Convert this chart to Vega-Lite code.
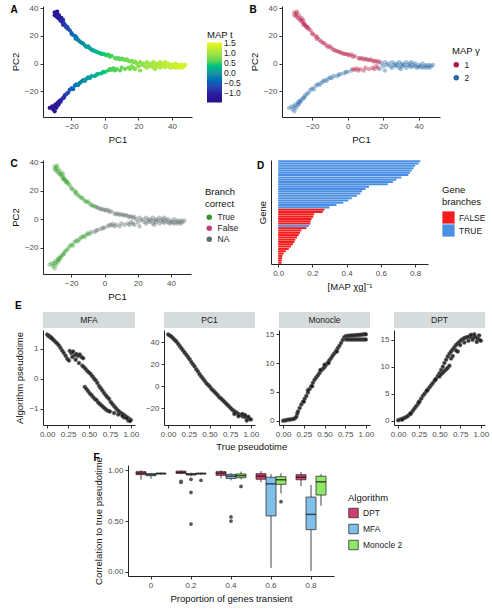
{
"$schema":"https://vega.github.io/schema/vega-lite/v6.json",
"background":"white",
"padding":{"left":10,"top":4,"right":2,"bottom":2},
"config":{
 "font":"Liberation Sans",
 "view":{"stroke":null},
 "axis":{"grid":false,"domainColor":"#222","tickColor":"#333","labelColor":"#4d4d4d","labelFontSize":8,"titleFontSize":9.5,"titleFontWeight":"normal","titleColor":"#111","tickSize":3,"labelPadding":2,"titlePadding":4,"domainWidth":1},
 "legend":{"titleFontSize":9.5,"titleFontWeight":"normal","titleColor":"#111","labelFontSize":8.5,"labelColor":"#222"},
 "title":{"fontSize":10,"fontWeight":"bold","anchor":"start","frame":"bounds","color":"#000"}
},
"resolve":{"scale":{"color":"independent","fill":"independent"},"legend":{"color":"independent","fill":"independent"}},
"datasets":{
"pc":[
{"x":-30,"y":37,"t":-1.3,"g":"1","c":"True"},{"x":-29,"y":36,"t":-1.26,"g":"1","c":"True"},{"x":-28.5,"y":37.5,"t":-1.28,"g":"1","c":"True"},{"x":-30,"y":35,"t":-1.24,"g":"1","c":"True"},{"x":-29,"y":34,"t":-1.2,"g":"1","c":"True"},{"x":-27.5,"y":35,"t":-1.15,"g":"1","c":"True"},{"x":-28,"y":33,"t":-1.12,"g":"1","c":"True"},{"x":-27,"y":32,"t":-1.06,"g":"1","c":"True"},{"x":-26,"y":33,"t":-1.02,"g":"1","c":"True"},{"x":-26.5,"y":31,"t":-1.0,"g":"1","c":"True"},{"x":-25.5,"y":30,"t":-0.93,"g":"1","c":"True"},{"x":-25,"y":31.5,"t":-0.92,"g":"1","c":"True"},{"x":-24.5,"y":29,"t":-0.86,"g":"1","c":"True"},{"x":-24,"y":28,"t":-0.8,"g":"1","c":"True"},{"x":-25,"y":28,"t":-0.85,"g":"1","c":"True"},{"x":-23.5,"y":27,"t":-0.75,"g":"1","c":"True"},{"x":-23,"y":26,"t":-0.68,"g":"1","c":"True"},{"x":-22,"y":25,"t":-0.6,"g":"1","c":"True"},{"x":-22.5,"y":26.5,"t":-0.64,"g":"1","c":"True"},{"x":-21,"y":24,"t":-0.52,"g":"1","c":"True"},{"x":-20,"y":22,"t":-0.43,"g":"1","c":"True"},{"x":-19.5,"y":21,"t":-0.38,"g":"1","c":"True"},{"x":-18,"y":20,"t":-0.31,"g":"1","c":"True"},{"x":-17,"y":19,"t":-0.26,"g":"1","c":"True"},{"x":-17.5,"y":18,"t":-0.24,"g":"1","c":"True"},{"x":-16,"y":17,"t":-0.18,"g":"1","c":"True"},{"x":-15,"y":16,"t":-0.13,"g":"1","c":"True"},{"x":-14,"y":15,"t":-0.08,"g":"1","c":"True"},{"x":-13,"y":14.5,"t":-0.04,"g":"1","c":"True"},{"x":-12,"y":13,"t":0.0,"g":"1","c":"True"},{"x":-11,"y":12,"t":0.04,"g":"1","c":"True"},{"x":-10,"y":12.5,"t":0.07,"g":"1","c":"True"},{"x":-9,"y":11,"t":0.11,"g":"1","c":"True"},{"x":-8,"y":10,"t":0.15,"g":"1","c":"True"},{"x":-7,"y":9.5,"t":0.19,"g":"1","c":"True"},{"x":-6,"y":9,"t":0.22,"g":"1","c":"True"},
{"x":-5,"y":8.5,"t":0.26,"g":"1","c":"NA"},{"x":-4,"y":8,"t":0.3,"g":"1","c":"NA"},{"x":-3,"y":7.5,"t":0.33,"g":"1","c":"NA"},{"x":-2,"y":7,"t":0.36,"g":"1","c":"NA"},{"x":-1,"y":7,"t":0.4,"g":"1","c":"NA"},{"x":0,"y":6.5,"t":0.43,"g":"1","c":"NA"},{"x":1,"y":6,"t":0.46,"g":"1","c":"NA"},{"x":2,"y":6.5,"t":0.48,"g":"1","c":"NA"},{"x":3,"y":5,"t":0.5,"g":"1","c":"NA"},{"x":4,"y":5.5,"t":0.53,"g":"1","c":"NA"},{"x":6,"y":4,"t":0.57,"g":"1","c":"NA"},{"x":7,"y":3.5,"t":0.59,"g":"1","c":"NA"},{"x":8,"y":4,"t":0.61,"g":"1","c":"NA"},{"x":9,"y":3,"t":0.64,"g":"1","c":"NA"},{"x":10,"y":3.5,"t":0.66,"g":"1","c":"NA"},{"x":11,"y":3,"t":0.68,"g":"1","c":"NA"},{"x":12,"y":2.5,"t":0.7,"g":"1","c":"NA"},{"x":13,"y":3,"t":0.72,"g":"1","c":"NA"},{"x":14,"y":2,"t":0.74,"g":"1","c":"NA"},{"x":15,"y":1.5,"t":0.76,"g":"1","c":"NA"},{"x":16,"y":2,"t":0.78,"g":"1","c":"NA"},{"x":17,"y":1,"t":0.8,"g":"1","c":"NA"},{"x":18,"y":1.5,"t":0.82,"g":"1","c":"NA"},{"x":19,"y":0,"t":0.84,"g":"2","c":"NA"},
{"x":-33,"y":-32,"t":-1.38,"g":"2","c":"True"},{"x":-31,"y":-33,"t":-1.33,"g":"2","c":"True"},{"x":-30,"y":-34.5,"t":-1.32,"g":"2","c":"True"},{"x":-31.5,"y":-31,"t":-1.3,"g":"2","c":"True"},{"x":-30,"y":-31,"t":-1.27,"g":"2","c":"True"},{"x":-29,"y":-32,"t":-1.26,"g":"2","c":"True"},{"x":-29.5,"y":-29.5,"t":-1.22,"g":"2","c":"True"},{"x":-28,"y":-30,"t":-1.18,"g":"2","c":"True"},{"x":-28,"y":-28,"t":-1.13,"g":"2","c":"True"},{"x":-27,"y":-27,"t":-1.06,"g":"2","c":"True"},{"x":-27.5,"y":-29,"t":-1.1,"g":"2","c":"True"},{"x":-26,"y":-26,"t":-0.99,"g":"2","c":"True"},{"x":-26.5,"y":-27.5,"t":-1.02,"g":"2","c":"True"},{"x":-25,"y":-25,"t":-0.92,"g":"2","c":"True"},{"x":-24,"y":-23,"t":-0.83,"g":"2","c":"True"},{"x":-24.5,"y":-24.5,"t":-0.87,"g":"2","c":"True"},{"x":-23,"y":-22,"t":-0.76,"g":"2","c":"True"},{"x":-22,"y":-21,"t":-0.67,"g":"2","c":"True"},{"x":-21,"y":-19,"t":-0.57,"g":"2","c":"True"},{"x":-20,"y":-18,"t":-0.47,"g":"2","c":"True"},{"x":-19,"y":-18.5,"t":-0.41,"g":"2","c":"True"},{"x":-18,"y":-16,"t":-0.33,"g":"2","c":"True"},{"x":-17,"y":-15,"t":-0.27,"g":"2","c":"True"},{"x":-16,"y":-15.5,"t":-0.21,"g":"2","c":"True"},{"x":-15,"y":-14,"t":-0.15,"g":"2","c":"True"},{"x":-14,"y":-13,"t":-0.1,"g":"2","c":"True"},{"x":-13,"y":-12,"t":-0.06,"g":"2","c":"True"},{"x":-12,"y":-12.5,"t":-0.02,"g":"2","c":"True"},{"x":-11,"y":-11,"t":0.03,"g":"2","c":"True"},{"x":-10,"y":-10,"t":0.07,"g":"2","c":"True"},{"x":-9,"y":-10.5,"t":0.1,"g":"2","c":"True"},
{"x":-8,"y":-9,"t":0.14,"g":"2","c":"NA"},{"x":-6,"y":-9,"t":0.21,"g":"2","c":"NA"},{"x":-5,"y":-8,"t":0.25,"g":"2","c":"NA"},{"x":-4,"y":-7.5,"t":0.29,"g":"2","c":"NA"},{"x":-2,"y":-7,"t":0.35,"g":"2","c":"NA"},{"x":-1,"y":-6,"t":0.39,"g":"2","c":"NA"},{"x":0,"y":-6,"t":0.42,"g":"2","c":"NA"},{"x":2,"y":-5,"t":0.47,"g":"2","c":"NA"},{"x":3,"y":-4,"t":0.5,"g":"1","c":"NA"},{"x":4,"y":-4.5,"t":0.52,"g":"1","c":"NA"},{"x":5,"y":-3.5,"t":0.55,"g":"1","c":"NA"},{"x":6,"y":-5,"t":0.57,"g":"1","c":"NA"},{"x":7,"y":-4,"t":0.59,"g":"1","c":"NA"},{"x":9,"y":-5,"t":0.63,"g":"1","c":"NA"},{"x":10,"y":-3,"t":0.66,"g":"1","c":"NA"},{"x":12,"y":-4,"t":0.7,"g":"1","c":"NA"},{"x":14,"y":-3,"t":0.74,"g":"1","c":"NA"},{"x":15,"y":-4,"t":0.76,"g":"1","c":"NA"},{"x":16,"y":-2,"t":0.78,"g":"1","c":"NA"},{"x":17,"y":-3,"t":0.8,"g":"1","c":"NA"},{"x":18,"y":-4,"t":0.82,"g":"2","c":"NA"},{"x":20,"y":-2,"t":0.86,"g":"2","c":"NA"},{"x":21,"y":-5,"t":0.88,"g":"2","c":"NA"},
{"x":21,"y":1,"t":0.88,"g":"2","c":"NA"},{"x":22,"y":-1,"t":0.9,"g":"2","c":"NA"},{"x":23,"y":0,"t":0.92,"g":"2","c":"NA"},{"x":24,"y":-2,"t":0.94,"g":"2","c":"NA"},{"x":25,"y":1,"t":0.96,"g":"2","c":"NA"},{"x":25,"y":-3,"t":0.96,"g":"2","c":"NA"},{"x":26,"y":-1,"t":0.98,"g":"2","c":"NA"},{"x":27,"y":0,"t":1.0,"g":"2","c":"NA"},{"x":27,"y":-2,"t":1.0,"g":"2","c":"NA"},{"x":28,"y":-1,"t":1.02,"g":"2","c":"NA"},{"x":29,"y":1,"t":1.04,"g":"2","c":"NA"},{"x":29,"y":-3,"t":1.04,"g":"2","c":"NA"},{"x":30,"y":-1,"t":1.06,"g":"2","c":"NA"},{"x":30,"y":-4,"t":1.06,"g":"2","c":"NA"},{"x":31,"y":-2,"t":1.08,"g":"2","c":"NA"},{"x":31,"y":0,"t":1.08,"g":"2","c":"NA"},{"x":32,"y":-1,"t":1.1,"g":"2","c":"NA"},{"x":33,"y":-3,"t":1.12,"g":"2","c":"NA"},{"x":33,"y":1,"t":1.12,"g":"2","c":"NA"},{"x":34,"y":-1,"t":1.14,"g":"2","c":"NA"},{"x":35,"y":-2,"t":1.16,"g":"2","c":"NA"},{"x":35,"y":0,"t":1.16,"g":"2","c":"NA"},{"x":36,"y":-2.5,"t":1.18,"g":"2","c":"NA"},{"x":36,"y":1,"t":1.18,"g":"2","c":"NA"},{"x":37,"y":-1,"t":1.2,"g":"2","c":"NA"},{"x":38,"y":-2,"t":1.22,"g":"2","c":"NA"},{"x":38,"y":0,"t":1.22,"g":"2","c":"NA"},{"x":39,"y":-3,"t":1.24,"g":"2","c":"NA"},{"x":40,"y":-1,"t":1.26,"g":"2","c":"NA"},{"x":40,"y":-2.5,"t":1.26,"g":"2","c":"NA"},{"x":41,"y":-2,"t":1.28,"g":"2","c":"NA"},{"x":42,"y":-3,"t":1.3,"g":"2","c":"NA"},{"x":42,"y":0,"t":1.3,"g":"2","c":"NA"},{"x":43,"y":-2,"t":1.32,"g":"2","c":"NA"},{"x":44,"y":-3,"t":1.34,"g":"2","c":"NA"},{"x":44,"y":-1,"t":1.34,"g":"2","c":"NA"},{"x":45,"y":-2,"t":1.36,"g":"2","c":"NA"},{"x":46,"y":-3,"t":1.38,"g":"2","c":"NA"},{"x":46,"y":-1,"t":1.38,"g":"2","c":"NA"},{"x":47,"y":-2,"t":1.4,"g":"2","c":"NA"},{"x":48,"y":-1,"t":1.43,"g":"2","c":"NA"}
],
"genes":[
{"gene":"g01","v":0.83,"b":"TRUE"},{"gene":"g02","v":0.82,"b":"TRUE"},{"gene":"g03","v":0.80,"b":"TRUE"},{"gene":"g04","v":0.79,"b":"TRUE"},{"gene":"g05","v":0.78,"b":"TRUE"},{"gene":"g06","v":0.77,"b":"TRUE"},{"gene":"g07","v":0.76,"b":"TRUE"},{"gene":"g08","v":0.72,"b":"TRUE"},{"gene":"g09","v":0.69,"b":"TRUE"},{"gene":"g10","v":0.67,"b":"TRUE"},{"gene":"g11","v":0.64,"b":"TRUE"},{"gene":"g12","v":0.53,"b":"TRUE"},{"gene":"g13","v":0.51,"b":"TRUE"},{"gene":"g14","v":0.49,"b":"TRUE"},{"gene":"g15","v":0.48,"b":"TRUE"},{"gene":"g16","v":0.46,"b":"TRUE"},{"gene":"g17","v":0.43,"b":"TRUE"},{"gene":"g18","v":0.41,"b":"TRUE"},{"gene":"g19","v":0.38,"b":"TRUE"},{"gene":"g20","v":0.34,"b":"TRUE"},{"gene":"g21","v":0.30,"b":"TRUE"},{"gene":"g22","v":0.18,"b":"TRUE"},
{"gene":"g23","v":0.27,"b":"FALSE"},{"gene":"g24","v":0.26,"b":"FALSE"},{"gene":"g25","v":0.21,"b":"FALSE"},{"gene":"g26","v":0.205,"b":"FALSE"},{"gene":"g27","v":0.195,"b":"FALSE"},{"gene":"g28","v":0.19,"b":"FALSE"},{"gene":"g29","v":0.188,"b":"FALSE"},{"gene":"g30","v":0.165,"b":"FALSE"},{"gene":"g31","v":0.135,"b":"FALSE"},{"gene":"g32","v":0.128,"b":"FALSE"},{"gene":"g33","v":0.12,"b":"FALSE"},{"gene":"g34","v":0.11,"b":"FALSE"},{"gene":"g35","v":0.10,"b":"FALSE"},{"gene":"g36","v":0.095,"b":"FALSE"},{"gene":"g37","v":0.087,"b":"FALSE"},{"gene":"g38","v":0.075,"b":"FALSE"},{"gene":"g39","v":0.062,"b":"FALSE"},{"gene":"g40","v":0.045,"b":"FALSE"},{"gene":"g41","v":0.032,"b":"FALSE"},{"gene":"g42","v":0.025,"b":"FALSE"},{"gene":"g43","v":0.022,"b":"FALSE"},{"gene":"g44","v":0.021,"b":"FALSE"},{"gene":"g45","v":0.019,"b":"FALSE"}
],
"ep":[
{"m":"MFA","T":0,"v":1.47},{"m":"MFA","T":0.01,"v":1.44},{"m":"MFA","T":0.02,"v":1.42},{"m":"MFA","T":0.03,"v":1.4},{"m":"MFA","T":0.04,"v":1.38},{"m":"MFA","T":0.05,"v":1.36},{"m":"MFA","T":0.06,"v":1.33},{"m":"MFA","T":0.08,"v":1.28},{"m":"MFA","T":0.1,"v":1.22},{"m":"MFA","T":0.12,"v":1.17},{"m":"MFA","T":0.14,"v":1.1},{"m":"MFA","T":0.16,"v":1.02},{"m":"MFA","T":0.18,"v":0.93},{"m":"MFA","T":0.2,"v":0.85},{"m":"MFA","T":0.22,"v":0.76},{"m":"MFA","T":0.24,"v":0.66},{"m":"MFA","T":0.26,"v":0.6},{"m":"MFA","T":0.27,"v":0.92},{"m":"MFA","T":0.29,"v":0.85},{"m":"MFA","T":0.31,"v":0.9},{"m":"MFA","T":0.33,"v":0.78},{"m":"MFA","T":0.35,"v":0.82},{"m":"MFA","T":0.37,"v":0.75},{"m":"MFA","T":0.39,"v":0.8},{"m":"MFA","T":0.41,"v":0.72},{"m":"MFA","T":0.43,"v":0.68},{"m":"MFA","T":0.3,"v":0.72},{"m":"MFA","T":0.34,"v":0.63},{"m":"MFA","T":0.38,"v":0.52},{"m":"MFA","T":0.42,"v":0.43},{"m":"MFA","T":0.44,"v":0.38},{"m":"MFA","T":0.46,"v":0.32},{"m":"MFA","T":0.48,"v":0.25},{"m":"MFA","T":0.5,"v":0.2},{"m":"MFA","T":0.52,"v":0.15},{"m":"MFA","T":0.54,"v":0.08},{"m":"MFA","T":0.56,"v":0.0},{"m":"MFA","T":0.58,"v":-0.06},{"m":"MFA","T":0.6,"v":-0.15},{"m":"MFA","T":0.62,"v":-0.25},{"m":"MFA","T":0.64,"v":-0.32},{"m":"MFA","T":0.66,"v":-0.4},{"m":"MFA","T":0.68,"v":-0.48},{"m":"MFA","T":0.7,"v":-0.56},{"m":"MFA","T":0.72,"v":-0.62},{"m":"MFA","T":0.74,"v":-0.68},{"m":"MFA","T":0.76,"v":-0.78},{"m":"MFA","T":0.78,"v":-0.85},{"m":"MFA","T":0.8,"v":-0.92},{"m":"MFA","T":0.82,"v":-0.98},{"m":"MFA","T":0.84,"v":-1.05},{"m":"MFA","T":0.86,"v":-1.1},{"m":"MFA","T":0.88,"v":-1.15},{"m":"MFA","T":0.9,"v":-1.18},{"m":"MFA","T":0.92,"v":-1.22},{"m":"MFA","T":0.94,"v":-1.27},{"m":"MFA","T":0.96,"v":-1.3},{"m":"MFA","T":0.98,"v":-1.35},{"m":"MFA","T":1.0,"v":-1.38},{"m":"MFA","T":0.97,"v":-1.4},{"m":"MFA","T":0.99,"v":-1.42},{"m":"MFA","T":0.92,"v":-1.3},
{"m":"MFA","T":0.45,"v":-0.28},{"m":"MFA","T":0.47,"v":-0.35},{"m":"MFA","T":0.49,"v":-0.42},{"m":"MFA","T":0.51,"v":-0.5},{"m":"MFA","T":0.53,"v":-0.55},{"m":"MFA","T":0.55,"v":-0.62},{"m":"MFA","T":0.57,"v":-0.68},{"m":"MFA","T":0.59,"v":-0.72},{"m":"MFA","T":0.61,"v":-0.8},{"m":"MFA","T":0.63,"v":-0.85},{"m":"MFA","T":0.65,"v":-0.9},{"m":"MFA","T":0.67,"v":-0.95},{"m":"MFA","T":0.69,"v":-1.0},{"m":"MFA","T":0.71,"v":-1.05},{"m":"MFA","T":0.73,"v":-1.08},{"m":"MFA","T":0.75,"v":-1.1},{"m":"MFA","T":0.8,"v":-1.15},{"m":"MFA","T":0.85,"v":-1.2},{"m":"MFA","T":0.9,"v":-1.25},{"m":"MFA","T":0.95,"v":-1.32},
{"m":"PC1","T":0,"v":47},{"m":"PC1","T":0.02,"v":46},{"m":"PC1","T":0.04,"v":45},{"m":"PC1","T":0.06,"v":43.5},{"m":"PC1","T":0.08,"v":42},{"m":"PC1","T":0.1,"v":40.5},{"m":"PC1","T":0.12,"v":38.5},{"m":"PC1","T":0.14,"v":36.5},{"m":"PC1","T":0.16,"v":34.5},{"m":"PC1","T":0.18,"v":32.5},{"m":"PC1","T":0.2,"v":30.5},{"m":"PC1","T":0.22,"v":28.5},{"m":"PC1","T":0.24,"v":26.5},{"m":"PC1","T":0.26,"v":24.5},{"m":"PC1","T":0.28,"v":22},{"m":"PC1","T":0.3,"v":20},{"m":"PC1","T":0.32,"v":18},{"m":"PC1","T":0.34,"v":15.5},{"m":"PC1","T":0.36,"v":13.5},{"m":"PC1","T":0.38,"v":11},{"m":"PC1","T":0.4,"v":9},{"m":"PC1","T":0.42,"v":7},{"m":"PC1","T":0.44,"v":5},{"m":"PC1","T":0.46,"v":3},{"m":"PC1","T":0.48,"v":1.5},{"m":"PC1","T":0.5,"v":0},{"m":"PC1","T":0.52,"v":-2},{"m":"PC1","T":0.54,"v":-3.5},{"m":"PC1","T":0.56,"v":-5},{"m":"PC1","T":0.58,"v":-6.5},{"m":"PC1","T":0.6,"v":-8},{"m":"PC1","T":0.62,"v":-10},{"m":"PC1","T":0.64,"v":-11},{"m":"PC1","T":0.66,"v":-12.5},{"m":"PC1","T":0.68,"v":-14},{"m":"PC1","T":0.7,"v":-15.5},{"m":"PC1","T":0.72,"v":-17},{"m":"PC1","T":0.74,"v":-18.5},{"m":"PC1","T":0.76,"v":-20},{"m":"PC1","T":0.78,"v":-21.5},{"m":"PC1","T":0.8,"v":-22.5},{"m":"PC1","T":0.82,"v":-23.5},{"m":"PC1","T":0.84,"v":-24.5},{"m":"PC1","T":0.86,"v":-25.5},{"m":"PC1","T":0.88,"v":-26},{"m":"PC1","T":0.9,"v":-27},{"m":"PC1","T":0.92,"v":-27.5},{"m":"PC1","T":0.94,"v":-28},{"m":"PC1","T":0.96,"v":-29},{"m":"PC1","T":0.98,"v":-29.5},{"m":"PC1","T":1.0,"v":-30},{"m":"PC1","T":0.85,"v":-27},{"m":"PC1","T":0.9,"v":-25},{"m":"PC1","T":0.95,"v":-31},{"m":"PC1","T":0.8,"v":-25},{"m":"PC1","T":0.93,"v":-26},{"m":"PC1","T":0.97,"v":-27.5},
{"m":"Monocle","T":0,"v":0},{"m":"Monocle","T":0.02,"v":0.05},{"m":"Monocle","T":0.04,"v":0.1},{"m":"Monocle","T":0.06,"v":0.15},{"m":"Monocle","T":0.08,"v":0.2},{"m":"Monocle","T":0.1,"v":0.25},{"m":"Monocle","T":0.12,"v":0.3},{"m":"Monocle","T":0.14,"v":0.4},{"m":"Monocle","T":0.16,"v":0.7},{"m":"Monocle","T":0.17,"v":1.2},{"m":"Monocle","T":0.18,"v":1.6},{"m":"Monocle","T":0.2,"v":2.2},{"m":"Monocle","T":0.22,"v":2.8},{"m":"Monocle","T":0.24,"v":3.3},{"m":"Monocle","T":0.26,"v":3.8},{"m":"Monocle","T":0.28,"v":4.3},{"m":"Monocle","T":0.3,"v":4.9},{"m":"Monocle","T":0.32,"v":5.5},{"m":"Monocle","T":0.34,"v":6.0},{"m":"Monocle","T":0.36,"v":6.6},{"m":"Monocle","T":0.38,"v":7.1},{"m":"Monocle","T":0.4,"v":7.5},{"m":"Monocle","T":0.42,"v":7.9},{"m":"Monocle","T":0.44,"v":8.3},{"m":"Monocle","T":0.46,"v":8.7},{"m":"Monocle","T":0.48,"v":9.0},{"m":"Monocle","T":0.5,"v":9.3},{"m":"Monocle","T":0.52,"v":9.7},{"m":"Monocle","T":0.54,"v":10.1},{"m":"Monocle","T":0.56,"v":10.5},{"m":"Monocle","T":0.58,"v":10.9},{"m":"Monocle","T":0.6,"v":11.3},{"m":"Monocle","T":0.62,"v":11.7},{"m":"Monocle","T":0.64,"v":12.1},{"m":"Monocle","T":0.66,"v":12.6},{"m":"Monocle","T":0.68,"v":13.0},{"m":"Monocle","T":0.7,"v":13.5},{"m":"Monocle","T":0.72,"v":14.0},{"m":"Monocle","T":0.74,"v":14.5},{"m":"Monocle","T":0.76,"v":14.7},{"m":"Monocle","T":0.78,"v":14.72},{"m":"Monocle","T":0.8,"v":14.75},{"m":"Monocle","T":0.82,"v":14.78},{"m":"Monocle","T":0.84,"v":14.8},{"m":"Monocle","T":0.86,"v":14.82},{"m":"Monocle","T":0.88,"v":14.85},{"m":"Monocle","T":0.9,"v":14.88},{"m":"Monocle","T":0.92,"v":14.9},{"m":"Monocle","T":0.94,"v":14.92},{"m":"Monocle","T":0.96,"v":14.95},{"m":"Monocle","T":0.98,"v":15.0},{"m":"Monocle","T":1.0,"v":15.0},{"m":"Monocle","T":0.76,"v":14.1},{"m":"Monocle","T":0.78,"v":14.12},{"m":"Monocle","T":0.8,"v":14.1},{"m":"Monocle","T":0.82,"v":14.08},{"m":"Monocle","T":0.84,"v":14.1},{"m":"Monocle","T":0.86,"v":14.1},{"m":"Monocle","T":0.88,"v":14.1},{"m":"Monocle","T":0.9,"v":14.12},{"m":"Monocle","T":0.92,"v":14.1},{"m":"Monocle","T":0.94,"v":14.08},{"m":"Monocle","T":0.96,"v":14.1},{"m":"Monocle","T":0.98,"v":14.1},{"m":"Monocle","T":1.0,"v":14.1},{"m":"Monocle","T":0.25,"v":3.3},{"m":"Monocle","T":0.35,"v":6.0},{"m":"Monocle","T":0.45,"v":8.8},{"m":"Monocle","T":0.55,"v":10.0},{"m":"Monocle","T":0.65,"v":12.0},{"m":"Monocle","T":0.3,"v":5.3},{"m":"Monocle","T":0.5,"v":9.7},
{"m":"DPT","T":0,"v":0.1},{"m":"DPT","T":0.02,"v":0.15},{"m":"DPT","T":0.04,"v":0.3},{"m":"DPT","T":0.06,"v":0.4},{"m":"DPT","T":0.08,"v":0.55},{"m":"DPT","T":0.1,"v":0.7},{"m":"DPT","T":0.12,"v":0.9},{"m":"DPT","T":0.14,"v":1.2},{"m":"DPT","T":0.16,"v":1.5},{"m":"DPT","T":0.18,"v":1.9},{"m":"DPT","T":0.2,"v":2.3},{"m":"DPT","T":0.22,"v":2.7},{"m":"DPT","T":0.24,"v":3.1},{"m":"DPT","T":0.26,"v":3.6},{"m":"DPT","T":0.28,"v":4.1},{"m":"DPT","T":0.3,"v":4.6},{"m":"DPT","T":0.32,"v":5.0},{"m":"DPT","T":0.34,"v":5.4},{"m":"DPT","T":0.36,"v":5.8},{"m":"DPT","T":0.38,"v":6.2},{"m":"DPT","T":0.4,"v":6.6},{"m":"DPT","T":0.42,"v":7.0},{"m":"DPT","T":0.44,"v":7.4},{"m":"DPT","T":0.46,"v":7.8},{"m":"DPT","T":0.48,"v":8.3},{"m":"DPT","T":0.5,"v":8.8},{"m":"DPT","T":0.52,"v":9.4},{"m":"DPT","T":0.54,"v":10.0},{"m":"DPT","T":0.56,"v":10.7},{"m":"DPT","T":0.58,"v":11.3},{"m":"DPT","T":0.6,"v":11.9},{"m":"DPT","T":0.62,"v":12.4},{"m":"DPT","T":0.64,"v":12.8},{"m":"DPT","T":0.66,"v":13.2},{"m":"DPT","T":0.68,"v":13.6},{"m":"DPT","T":0.7,"v":14.0},{"m":"DPT","T":0.72,"v":14.3},{"m":"DPT","T":0.74,"v":14.6},{"m":"DPT","T":0.76,"v":14.9},{"m":"DPT","T":0.78,"v":15.1},{"m":"DPT","T":0.8,"v":15.3},{"m":"DPT","T":0.82,"v":15.4},{"m":"DPT","T":0.84,"v":15.5},{"m":"DPT","T":0.86,"v":15.6},{"m":"DPT","T":0.88,"v":15.5},{"m":"DPT","T":0.9,"v":15.6},{"m":"DPT","T":0.92,"v":15.4},{"m":"DPT","T":0.94,"v":15.5},{"m":"DPT","T":0.96,"v":15.2},{"m":"DPT","T":0.98,"v":15.0},{"m":"DPT","T":1.0,"v":14.8},{"m":"DPT","T":0.5,"v":8.2},{"m":"DPT","T":0.52,"v":8.6},{"m":"DPT","T":0.54,"v":8.9},{"m":"DPT","T":0.56,"v":9.2},{"m":"DPT","T":0.58,"v":9.5},{"m":"DPT","T":0.6,"v":9.8},{"m":"DPT","T":0.62,"v":10.2},{"m":"DPT","T":0.64,"v":11.5},{"m":"DPT","T":0.66,"v":12.0},{"m":"DPT","T":0.7,"v":13.0},{"m":"DPT","T":0.72,"v":12.8},{"m":"DPT","T":0.75,"v":14.0},{"m":"DPT","T":0.8,"v":14.5},{"m":"DPT","T":0.85,"v":14.8},{"m":"DPT","T":0.9,"v":15.0},{"m":"DPT","T":0.95,"v":14.6},{"m":"DPT","T":0.98,"v":15.8},{"m":"DPT","T":0.88,"v":15.9},{"m":"DPT","T":0.92,"v":16.0},{"m":"DPT","T":0.05,"v":0.2},{"m":"DPT","T":0.15,"v":1.3},{"m":"DPT","T":0.25,"v":3.4},{"m":"DPT","T":0.35,"v":5.6},{"m":"DPT","T":0.45,"v":7.6}
],
"box":[
{"p":"0","a":"DPT","lo":0.905,"q1":0.955,"med":0.97,"q3":0.985,"hi":1.0},{"p":"0","a":"MFA","lo":0.915,"q1":0.945,"med":0.955,"q3":0.965,"hi":0.97},{"p":"0","a":"Monocle 2","lo":0.955,"q1":0.962,"med":0.966,"q3":0.97,"hi":0.975},
{"p":"0.2","a":"DPT","lo":0.96,"q1":0.968,"med":0.977,"q3":0.99,"hi":1.0},{"p":"0.2","a":"MFA","lo":0.94,"q1":0.952,"med":0.958,"q3":0.967,"hi":0.975},{"p":"0.2","a":"Monocle 2","lo":0.955,"q1":0.962,"med":0.966,"q3":0.97,"hi":0.975},
{"p":"0.4","a":"DPT","lo":0.92,"q1":0.948,"med":0.97,"q3":0.985,"hi":1.0},{"p":"0.4","a":"MFA","lo":0.9,"q1":0.918,"med":0.94,"q3":0.958,"hi":0.97},{"p":"0.4","a":"Monocle 2","lo":0.91,"q1":0.925,"med":0.945,"q3":0.962,"hi":0.985},
{"p":"0.6","a":"DPT","lo":0.88,"q1":0.91,"med":0.94,"q3":0.965,"hi":0.99},{"p":"0.6","a":"MFA","lo":0.04,"q1":0.55,"med":0.865,"q3":0.93,"hi":0.96},{"p":"0.6","a":"Monocle 2","lo":0.77,"q1":0.86,"med":0.905,"q3":0.935,"hi":0.97},
{"p":"0.8","a":"DPT","lo":0.84,"q1":0.905,"med":0.93,"q3":0.955,"hi":0.98},{"p":"0.8","a":"MFA","lo":0.01,"q1":0.415,"med":0.565,"q3":0.735,"hi":0.855},{"p":"0.8","a":"Monocle 2","lo":0.65,"q1":0.755,"med":0.885,"q3":0.94,"hi":0.96}
],
"out":[
{"p":"0.2","a":"DPT","v":0.89},{"p":"0.2","a":"DPT","v":0.88},{"p":"0.2","a":"MFA","v":0.91},{"p":"0.2","a":"MFA","v":0.78},{"p":"0.2","a":"MFA","v":0.47},{"p":"0.2","a":"Monocle 2","v":0.9},{"p":"0.4","a":"MFA","v":0.54},{"p":"0.4","a":"MFA","v":0.5},{"p":"0.4","a":"Monocle 2","v":0.84},{"p":"0.6","a":"Monocle 2","v":0.69}
]
},
"vconcat":[
{"resolve":{"scale":{"color":"independent"},"legend":{"color":"independent"}},
 "vconcat":[
 {"resolve":{"scale":{"color":"independent"},"legend":{"color":"independent"}},
  "hconcat":[
  {"title":{"text":"A","offset":-11},"width":149,"height":111,"data":{"name":"pc"},
   "mark":{"type":"circle","size":18,"opacity":1},
   "encoding":{
    "x":{"field":"x","type":"quantitative","title":"PC1","scale":{"domain":[-37,52],"nice":false,"zero":false},"axis":{"values":[-20,0,20,40]}},
    "y":{"field":"y","type":"quantitative","title":"PC2","scale":{"domain":[-38.6,41.6],"nice":false},"axis":{"values":[-20,0,20,40]}},
    "color":{"field":"t","type":"quantitative","title":"MAP t","scale":{"domain":[-1.46,-1.0,-0.5,0,0.5,1.0,1.55],"range":["#2a0c8c","#2a1fa3","#2a56b6","#22929b","#3ccf5c","#a2e544","#ecf61e"]},
     "legend":{"orient":"none","legendX":164,"legendY":24,"gradientLength":60,"gradientThickness":15,"values":[-1,-0.5,0,0.5,1,1.5],"format":".1f","labelOverlap":false,"titlePadding":3}}
   }},
  {"title":{"text":"B","offset":-11},"width":158,"height":111,"data":{"name":"pc"},
   "mark":{"type":"point","filled":true,"size":20,"fillOpacity":0.4,"strokeOpacity":0.9,"strokeWidth":0.8},
   "encoding":{
    "x":{"field":"x","type":"quantitative","title":"PC1","scale":{"domain":[-37,52],"nice":false,"zero":false},"axis":{"values":[-20,0,20,40]}},
    "y":{"field":"y","type":"quantitative","title":"PC2","scale":{"domain":[-38.6,41.6],"nice":false},"axis":{"values":[-20,0,20,40]}},
    "color":{"field":"g","type":"nominal","title":"MAP γ","scale":{"domain":["1","2"],"range":["#b3153f","#2666a8"]},
     "legend":{"orient":"none","legendX":170,"legendY":40,"symbolSize":30,"rowPadding":4}}
   }}
 ],"spacing":8},
 {"resolve":{"scale":{"color":"independent"},"legend":{"color":"independent"}},
  "hconcat":[
  {"title":{"text":"C","offset":-11},"width":148,"height":114,"data":{"name":"pc"},
   "mark":{"type":"point","filled":true,"size":20,"fillOpacity":0.4,"strokeOpacity":0.9,"strokeWidth":0.8},
   "encoding":{
    "x":{"field":"x","type":"quantitative","title":"PC1","scale":{"domain":[-37,52],"nice":false,"zero":false},"axis":{"values":[-20,0,20,40]}},
    "y":{"field":"y","type":"quantitative","title":"PC2","scale":{"domain":[-38.6,41.6],"nice":false},"axis":{"values":[-20,0,20,40]}},
    "color":{"field":"c","type":"nominal","title":["Branch","correct"],"scale":{"domain":["True","False","NA"],"range":["#2f9a28","#c2407a","#5e6b6b"]},
     "legend":{"orient":"none","legendX":162,"legendY":27,"symbolSize":30,"rowPadding":2}}
   }},
  {"title":{"text":"D","offset":-11},"width":157,"height":104,"data":{"name":"genes"},
   "mark":{"type":"bar"},
   "encoding":{
    "x":{"field":"v","type":"quantitative","title":"[MAP χg]⁻¹","scale":{"domain":[-0.042,0.875],"nice":false},"axis":{"values":[0,0.2,0.4,0.6,0.8],"format":".1f"}},
    "y":{"field":"gene","type":"nominal","sort":"-x","title":"Gene","scale":{"paddingInner":0.12,"paddingOuter":0.1},"axis":{"labels":false,"ticks":false}},
    "color":{"field":"b","type":"nominal","title":["Gene","branches"],"scale":{"domain":["FALSE","TRUE"],"range":["#f41d1d","#4a8fe3"]},
     "legend":{"orient":"none","legendX":171,"legendY":25,"symbolType":"square","symbolSize":150,"symbolStrokeWidth":0,"rowPadding":0}}
   }}
 ],"spacing":18}
],"spacing":14},
{"title":{"text":"E","offset":1},
 "vconcat":[{
  "title":{"text":"True pseudotime","orient":"bottom","anchor":"middle","fontWeight":"normal","fontSize":9.5,"offset":4,"color":"#111"},
  "hconcat":[
   {"vconcat":[
     {"width":92,"height":16,"data":{"values":[{"m":"MFA"}]},"layer":[
       {"mark":{"type":"rect","color":"#d6dcdc"},"encoding":{"x":{"field":"m","type":"nominal","axis":null,"scale":{"padding":0}},"y":{"field":"m","type":"nominal","axis":null,"scale":{"padding":0}}}},
       {"mark":{"type":"text","fontSize":8.5,"color":"#1a1a1a"},"encoding":{"x":{"field":"m","type":"nominal","axis":null},"y":{"field":"m","type":"nominal","axis":null},"text":{"field":"m"}}}]},
     {"width":92,"height":95,"data":{"name":"ep"},"transform":[{"filter":"datum.m === 'MFA'"}],
      "mark":{"type":"circle","size":16,"color":"#111","opacity":0.85,"stroke":"#777","strokeWidth":0.5},
      "encoding":{"x":{"field":"T","type":"quantitative","title":null,"scale":{"domain":[-0.05,1.05],"nice":false},"axis":{"values":[0,0.25,0.5,0.75,1],"format":".2f"}},
       "y":{"field":"v","type":"quantitative","title":"Algorithm pseudotime","scale":{"domain":[-1.55,1.62],"nice":false,"zero":false},"axis":{"values":[-1,0,1]}}}}
   ],"spacing":2},
   {"vconcat":[
     {"width":91,"height":16,"data":{"values":[{"m":"PC1"}]},"layer":[
       {"mark":{"type":"rect","color":"#d6dcdc"},"encoding":{"x":{"field":"m","type":"nominal","axis":null,"scale":{"padding":0}},"y":{"field":"m","type":"nominal","axis":null,"scale":{"padding":0}}}},
       {"mark":{"type":"text","fontSize":8.5,"color":"#1a1a1a"},"encoding":{"x":{"field":"m","type":"nominal","axis":null},"y":{"field":"m","type":"nominal","axis":null},"text":{"field":"m"}}}]},
     {"width":91,"height":95,"data":{"name":"ep"},"transform":[{"filter":"datum.m === 'PC1'"}],
      "mark":{"type":"circle","size":16,"color":"#111","opacity":0.85,"stroke":"#777","strokeWidth":0.5},
      "encoding":{"x":{"field":"T","type":"quantitative","title":null,"scale":{"domain":[-0.05,1.05],"nice":false},"axis":{"values":[0,0.25,0.5,0.75,1],"format":".2f"}},
       "y":{"field":"v","type":"quantitative","title":null,"scale":{"domain":[-35,51],"nice":false,"zero":false},"axis":{"values":[-20,0,20,40]}}}}
   ],"spacing":2},
   {"vconcat":[
     {"width":91,"height":16,"data":{"values":[{"m":"Monocle"}]},"layer":[
       {"mark":{"type":"rect","color":"#d6dcdc"},"encoding":{"x":{"field":"m","type":"nominal","axis":null,"scale":{"padding":0}},"y":{"field":"m","type":"nominal","axis":null,"scale":{"padding":0}}}},
       {"mark":{"type":"text","fontSize":8.5,"color":"#1a1a1a"},"encoding":{"x":{"field":"m","type":"nominal","axis":null},"y":{"field":"m","type":"nominal","axis":null},"text":{"field":"m"}}}]},
     {"width":91,"height":95,"data":{"name":"ep"},"transform":[{"filter":"datum.m === 'Monocle'"}],
      "mark":{"type":"circle","size":16,"color":"#111","opacity":0.85,"stroke":"#777","strokeWidth":0.5},
      "encoding":{"x":{"field":"T","type":"quantitative","title":null,"scale":{"domain":[-0.05,1.05],"nice":false},"axis":{"values":[0,0.25,0.5,0.75,1],"format":".2f"}},
       "y":{"field":"v","type":"quantitative","title":null,"scale":{"domain":[-0.75,15.75],"nice":false},"axis":{"values":[0,5,10,15]}}}}
   ],"spacing":2},
   {"vconcat":[
     {"width":91,"height":16,"data":{"values":[{"m":"DPT"}]},"layer":[
       {"mark":{"type":"rect","color":"#d6dcdc"},"encoding":{"x":{"field":"m","type":"nominal","axis":null,"scale":{"padding":0}},"y":{"field":"m","type":"nominal","axis":null,"scale":{"padding":0}}}},
       {"mark":{"type":"text","fontSize":8.5,"color":"#1a1a1a"},"encoding":{"x":{"field":"m","type":"nominal","axis":null},"y":{"field":"m","type":"nominal","axis":null},"text":{"field":"m"}}}]},
     {"width":91,"height":95,"data":{"name":"ep"},"transform":[{"filter":"datum.m === 'DPT'"}],
      "mark":{"type":"circle","size":16,"color":"#111","opacity":0.85,"stroke":"#777","strokeWidth":0.5},
      "encoding":{"x":{"field":"T","type":"quantitative","title":null,"scale":{"domain":[-0.05,1.05],"nice":false},"axis":{"values":[0,0.25,0.5,0.75,1],"format":".2f"}},
       "y":{"field":"v","type":"quantitative","title":null,"scale":{"domain":[-0.8,16.8],"nice":false},"axis":{"values":[0,5,10,15]}}}}
   ],"spacing":2}
  ],"spacing":6}]},
{"resolve":{"scale":{"fill":"independent"},"legend":{"fill":"independent"}},
 "hconcat":[
  {"width":50,"height":10,"data":{"values":[]},"mark":{"type":"point"},"encoding":{}},
  {"title":{"text":"F","offset":-6},"width":206,"height":111,
   "layer":[
    {"data":{"name":"box"},"mark":{"type":"rule","color":"#444","strokeWidth":1},
     "encoding":{"x":{"field":"p","type":"nominal","title":"Proportion of genes transient","scale":{"domain":["0","0.2","0.4","0.6","0.8"],"paddingInner":0.25,"paddingOuter":0.2},"axis":{"labelAngle":0}},
      "xOffset":{"field":"a","type":"nominal","scale":{"domain":["DPT","MFA","Monocle 2"],"paddingInner":0,"paddingOuter":0}},
      "y":{"field":"lo","type":"quantitative","title":"Correlation to true pseudotime","scale":{"domain":[-0.04,1.05],"nice":false},"axis":{"values":[0,0.25,0.5,0.75,1],"format":".2f"}},
      "y2":{"field":"hi"}}},
    {"data":{"name":"box"},"mark":{"type":"bar","stroke":"#333","strokeWidth":0.8},
     "encoding":{"x":{"field":"p","type":"nominal"},"xOffset":{"field":"a","type":"nominal"},
      "y":{"field":"q1","type":"quantitative"},"y2":{"field":"q3"},
      "fill":{"field":"a","type":"nominal","title":"Algorithm","scale":{"domain":["DPT","MFA","Monocle 2"],"range":["#cf3e6c","#80bfe9","#8fe86a"]},
       "legend":{"orient":"none","legendX":220,"legendY":28,"symbolType":"square","symbolSize":90,"symbolStrokeColor":"#333","symbolStrokeWidth":0.8,"rowPadding":3}}}},
    {"data":{"name":"box"},"mark":{"type":"tick","color":"#111","thickness":1.5,"size":10},
     "encoding":{"x":{"field":"p","type":"nominal"},"xOffset":{"field":"a","type":"nominal"},"y":{"field":"med","type":"quantitative"}}},
    {"data":{"name":"out"},"mark":{"type":"circle","size":14,"color":"#555","opacity":1},
     "encoding":{"x":{"field":"p","type":"nominal"},"xOffset":{"field":"a","type":"nominal"},"y":{"field":"v","type":"quantitative"}}}
   ]}
 ],"spacing":0}
],
"spacing":0
}
